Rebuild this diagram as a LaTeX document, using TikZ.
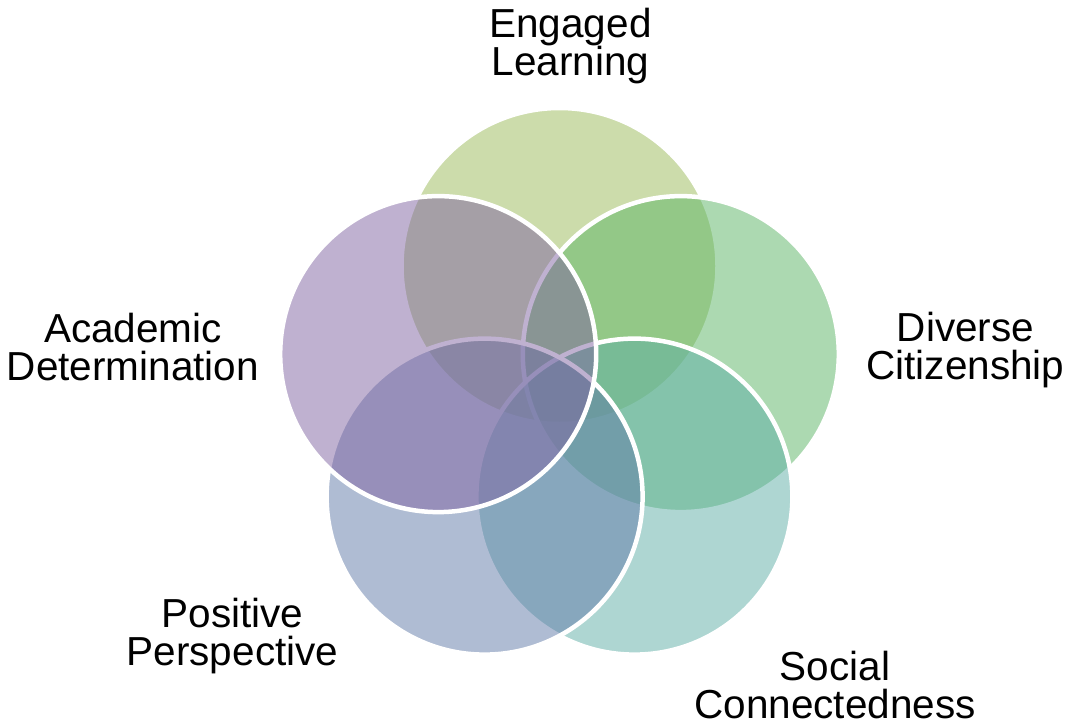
\documentclass[tikz,border=0pt]{standalone}
\usepackage{fontspec}
\setmainfont{Liberation Sans}
\definecolor{cE}{HTML}{9BBB59}
\definecolor{cD}{HTML}{5BB565}
\definecolor{cS}{HTML}{5EAFA6}
\definecolor{cP}{HTML}{617AA9}
\definecolor{cA}{HTML}{8064A2}
\tikzset{
  venn/.style={circle, inner sep=0pt, minimum size=316pt, fill=#1, fill opacity=0.5, draw=white, draw opacity=1, line width=4.5pt},
  lbl/.style={align=center, anchor=base, inner sep=0pt, font=\fontsize{40.5}{38.5}\selectfont, text=black}
}
\begin{document}
\begin{tikzpicture}[x=1pt,y=-1pt]
\useasboundingbox (0,0) rectangle (1069,724);
\fill[white] (0,0) rectangle (1069,724);
\node[venn=cE] (E) at (559.5,266) {};
\node[venn=cD] (D) at (680.8,354.1) {};
\node[venn=cS] (S) at (634.4,496.6) {};
\node[venn=cP] (P) at (484.6,496.6) {};
\node[venn=cA] (A) at (438.2,354.1) {};
\node[lbl] (tE) at (570.5,75.5) {Engaged\\Learning};
\node[lbl] (tD) at (965.5,379.5) {Diverse\\Citizenship};
\node[lbl] (tS) at (835,718.5) {Social\\Connectedness};
\node[lbl] (tP) at (232.5,665.5) {Positive\\Perspective};
\node[lbl] (tA) at (133,380.5) {Academic\\Determination};
\end{tikzpicture}
\end{document}
